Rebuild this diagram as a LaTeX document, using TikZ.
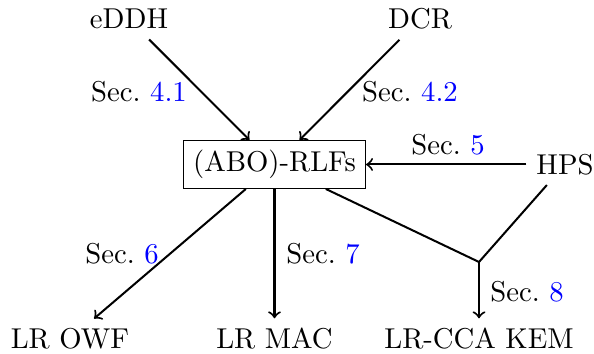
\documentclass[tikz,border=0pt]{standalone}
\usetikzlibrary{calc}
\begin{document}
\begin{tikzpicture}[x=0.3484pt,y=-0.3484pt,
  conn/.style={line width=0.7pt},
  arr/.style={line width=0.7pt,->},
  lbl/.style={},
  boxnode/.style={draw,thin}]
\useasboundingbox (0,0) rectangle (594,354);
\newcommand{\secn}[1]{Sec.~\textcolor{blue}{#1}}
\node[anchor=base] (eddh) at (129,29) {eDDH};
\node[anchor=base] (dcr) at (420,29) {DCR};
\node[boxnode] (box) at (274.5,164.5) {(ABO)-RLFs};
\node (hps) at (565,164.5) {HPS};
\node[anchor=base] (owf) at (70,349) {LR OWF};
\node[anchor=base] (mac) at (274.5,349) {LR MAC};
\node[anchor=base] (kem) at (479,349) {LR-CCA KEM};
\coordinate (j) at (479,262);
\draw[arr] (eddh) -- ($(box.north)+(-25,0)$);
\draw[arr] (dcr) -- ($(box.north)+(25,0)$);
\draw[arr] (hps) -- (box);
\draw[arr] (box) -- (owf);
\draw[arr] (box) -- (mac);
\draw[conn] (box) -- (j);
\draw[conn] (hps) -- (j);
\draw[arr] (j) -- (kem);
\node[lbl] (l41) at (139,92) {\secn{4.1}};
\node[lbl] (l42) at (410,92) {\secn{4.2}};
\node[lbl,anchor=base] (l5) at (448,155) {\secn{5}};
\node[lbl] (l6) at (122,254) {\secn{6}};
\node[lbl] (l7) at (323,254) {\secn{7}};
\node[lbl,anchor=base] (l8) at (527,302) {\secn{8}};
\end{tikzpicture}
\end{document}
